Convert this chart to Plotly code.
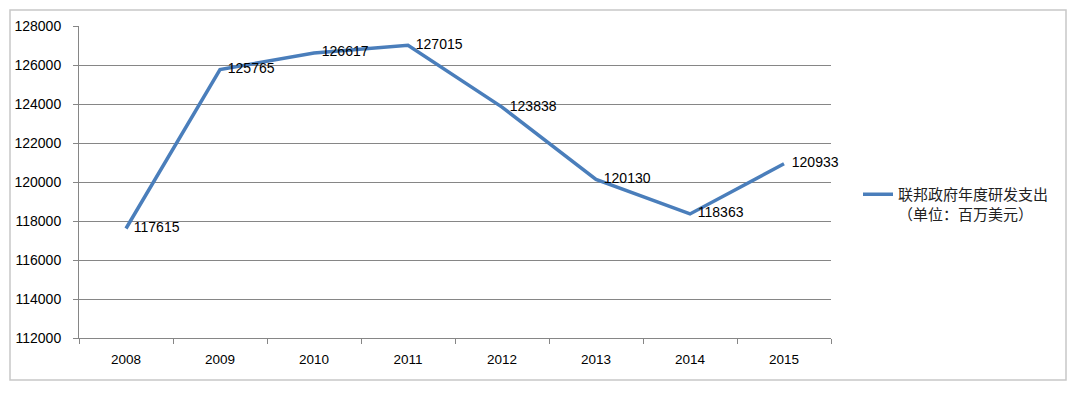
import plotly.graph_objects as go

years = ["2008", "2009", "2010", "2011", "2012", "2013", "2014", "2015"]
spending = [117615, 125765, 126617, 127015, 123838, 120130, 118363, 120933]
series_name = "联邦政府年度研发支出<br>（单位：百万美元）"
y_ticks = list(range(112000, 128001, 2000))

# page body has an 8px margin; compensate so the plot lands where the reference has it
OFF = 8
W, H = 1064, 378
L, R, T, B = 79 - OFF, 831 - OFF, 26 - OFF, 338 - OFF
pw, ph = R - L, B - T

def px(x):
    return (x - OFF - L) / pw

def py(y):
    return (B - (y - OFF)) / ph

fig = go.Figure()
fig.add_trace(go.Scatter(
    x=years, y=spending, mode="lines+text", name=series_name,
    line=dict(color="#4A7EBB", width=3.5),
    text=["  " + str(v) for v in spending], textposition="middle right",
    textfont=dict(family="Liberation Sans, Open Sans", size=14, color="#000000"),
    cliponaxis=False,
))

fig.update_layout(
    width=W, height=H,
    margin=dict(l=L, r=W - R, t=T, b=H - B, autoexpand=False),
    paper_bgcolor="white", plot_bgcolor="white",
    showlegend=True,
    legend=dict(x=px(858), y=py(178), xanchor="left", yanchor="top", valign="top",
                font=dict(family="Noto Sans CJK SC", size=15, color="#222222"),
                bgcolor="rgba(0,0,0,0)", itemwidth=30, tracegroupgap=0),
    xaxis=dict(type="category", tickson="boundaries", ticks="outside", ticklen=5,
               tickcolor="#868686", showline=True, linecolor="#868686", linewidth=1,
               showgrid=False, ticklabelstandoff=9,
               tickfont=dict(family="Liberation Sans, Open Sans", size=13.5, color="#000000"),
               range=[-0.5, 7.5]),
    yaxis=dict(range=[112000, 128000], tickvals=y_ticks, ticktext=[str(v) for v in y_ticks],
               ticks="outside", ticklen=5, tickcolor="#868686",
               showline=True, linecolor="#868686", linewidth=1, ticklabelstandoff=9,
               showgrid=True, gridcolor="#868686", gridwidth=1, zeroline=False,
               tickfont=dict(family="Liberation Sans, Open Sans", size=14, color="#000000")),
    shapes=[dict(type="rect", xref="paper", yref="paper",
                 x0=px(10), x1=px(1066), y0=py(380), y1=py(10),
                 line=dict(color="#C8C8C8", width=1.5), layer="below")],
)

fig.write_html("out.html")
